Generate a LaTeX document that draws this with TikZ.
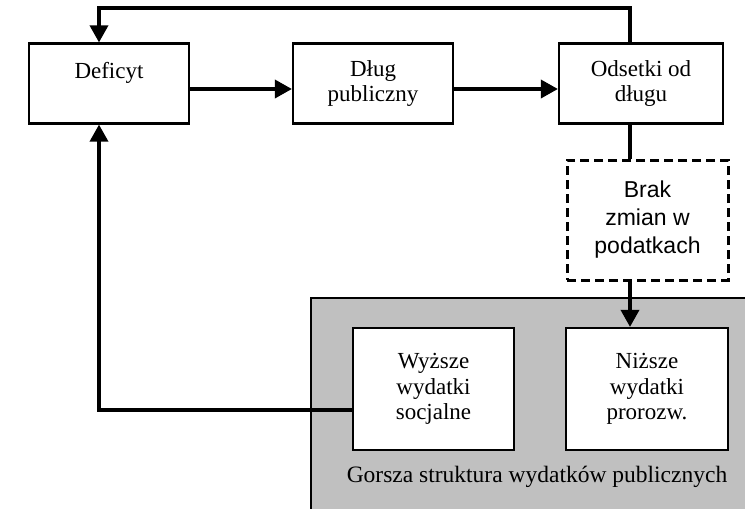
\documentclass[tikz,border=0pt]{standalone}
\usepackage{fontspec}
\setmainfont{Liberation Serif}
\newfontfamily\arialfont{Liberation Sans}
\usetikzlibrary{arrows.meta}
\definecolor{panel}{HTML}{C0C0C0}

\begin{document}
\begin{tikzpicture}[x=1pt,y=-1pt,
  box/.style={draw, line width=2.2pt, fill=white, align=center, inner sep=0pt,
    font=\fontsize{23}{25.5}\selectfont},
  link/.style={line width=3.5pt, -{Triangle[length=17pt,width=18pt]}},
  plain/.style={line width=3.5pt}]
\useasboundingbox (0,0) rectangle (745,509);

% gray panel in the corner
\fill[panel, draw=black, line width=1.8pt] (311,298) rectangle (746,510);
\node[font=\fontsize{23.5}{26}\selectfont] (cap) at (537,477) {Gorsza struktura wydatków publicznych};

% top row
\node[box, minimum width=160pt, minimum height=80pt] (def) at (109,83.5) {Deficyt\\ \mbox{}};
\node[box, minimum width=160pt, minimum height=80pt] (dlug) at (373,83.5) {Dług\\publiczny};
\node[box, minimum width=164pt, minimum height=80pt] (ods) at (641,83.5) {Odsetki od\\długu};

% taxes, dashed
\node[box, dashed, line width=3pt, dash pattern=on 9pt off 5pt, minimum width=161pt, minimum height=120pt,
  font=\arialfont\fontsize{23}{28}\selectfont] (brak) at (647.5,220) {Brak\\zmian w\\podatkach};

% inside the panel
\node[box, minimum width=161pt, minimum height=122pt] (wyz) at (433.5,389) {Wyższe\\wydatki\\socjalne};
\node[box, minimum width=162pt, minimum height=122pt] (niz) at (647,389) {Niższe\\wydatki\\prorozw.};

% helper points for the loops
\coordinate (topl) at (99,8);
\coordinate (topr) at (630,8);
\coordinate (botl) at (99,410);

\draw[link] ([yshift=-5.5pt]def.east) -- ([yshift=-5.5pt]dlug.west);
\draw[link] ([yshift=-5.5pt]dlug.east) -- ([yshift=-5.5pt]ods.west);
\draw[link] (ods.north -| topr) -- (topr) -- (topl) -- (def.north -| topl);
\draw[plain] (ods.south -| topr) -- (brak.north -| topr);
\draw[link] (brak.south -| topr) -- (niz.north -| topr);
\draw[link] (wyz.west |- botl) -- (botl) -- (def.south -| botl);
\end{tikzpicture}
\end{document}
